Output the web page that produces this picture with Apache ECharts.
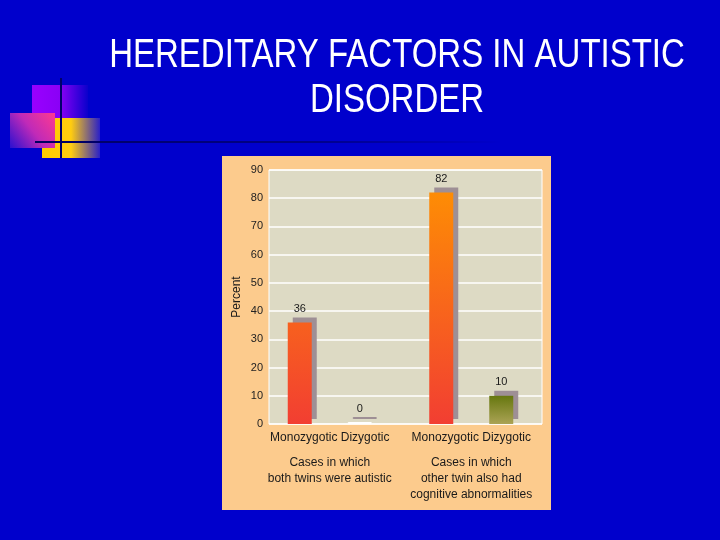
<!DOCTYPE html>
<html><head><meta charset="utf-8">
<script src="https://cdn.jsdelivr.net/npm/echarts@6/dist/echarts.min.js"></script>
<style>html,body{margin:0;padding:0;background:#0000CC}#c{width:720px;height:540px}</style>
</head><body><div id="c"></div>
<script>
const titleLines = ['HEREDITARY FACTORS IN AUTISTIC', 'DISORDER'];
const groups = ['Cases in which\nboth twins were autistic', 'Cases in which\nother twin also had\ncognitive abnormalities'];
const seriesNames = ['Monozygotic', 'Dizygotic'];
const monozygotic = [36, 82];
const dizygotic = [0, 10];
const yMin = 0, yMax = 90, yInterval = 10;
const yName = 'Percent';

const chart = echarts.init(document.getElementById('c'), null, {renderer: 'canvas'});
const LG = echarts.graphic.LinearGradient;
const FONT = '"Liberation Sans", Arial, sans-serif';

const shadow = {shadowColor: '#9E8F95', shadowBlur: 0, shadowOffsetX: 5, shadowOffsetY: -5};
const monoColor = new LG(0, 170, 0, 424, [{offset: 0, color: '#FF9400'}, {offset: 1, color: '#F23E32'}], true);
const dizColor = new LG(0, 0, 0, 1, [{offset: 0, color: '#66770F'}, {offset: 1, color: '#ABA355'}]);

function catLabel(v) {
  const head = '{a|' + seriesNames.join(' ') + '}';
  const body = v.split('\n').map(l => '{b|' + l + '}');
  return [head, '{g| }'].concat(body).join('\n');
}

const option = {
  backgroundColor: '#0000CC',
  animation: false,
  graphic: [
    {type: 'rect', z: -5, shape: {x: 222, y: 156, width: 329, height: 354}, style: {fill: '#FCCB8D'}},
    {type: 'rect', z: 1, shape: {x: 32, y: 85, width: 56, height: 33},
      style: {fill: new LG(0, 0, 1, 0, [{offset: 0, color: '#9900FF'}, {offset: 0.5, color: '#8A00F6'}, {offset: 1, color: '#0A00CC'}])}},
    {type: 'rect', z: 1, shape: {x: 42, y: 118, width: 58, height: 40},
      style: {fill: new LG(0, 0, 1, 0, [{offset: 0, color: '#FFCC00'}, {offset: 0.5, color: '#FFCC10'}, {offset: 1, color: '#2A20C8'}])}},
    {type: 'rect', z: 2, shape: {x: 10, y: 113, width: 45, height: 35},
      style: {fill: new LG(1, 0, 0, 1, [{offset: 0, color: '#FF3A90'}, {offset: 0.5, color: '#C02AB8'}, {offset: 1, color: '#2A10D0'}])}},
    {type: 'line', z: 3, shape: {x1: 61, y1: 78, x2: 61, y2: 158}, style: {stroke: '#00006A', lineWidth: 2}},
    {type: 'line', z: 3, shape: {x1: 35, y1: 142, x2: 500, y2: 142},
      style: {stroke: new LG(0, 0, 1, 0, [{offset: 0, color: '#000060'}, {offset: 0.6, color: '#00008A'}, {offset: 1, color: '#0000CC'}]), lineWidth: 2}},
    {type: 'text', z: 5, x: 397, y: 33, scaleY: 1.25,
      style: {text: titleLines.join('\n'), fill: '#FFFFFF', font: '33px ' + FONT, lineHeight: 36,
        textAlign: 'center', textVerticalAlign: 'top'}}
  ],
  grid: [
    {left: 269, right: 178, top: 170, bottom: 116, show: true, backgroundColor: '#DDDAC4', borderColor: '#FFFFFF', borderWidth: 1, z: 0},
    {left: 259, right: 178, top: 170, bottom: 116, z: 3}
  ],
  xAxis: [
    {type: 'category', gridIndex: 0, data: groups, show: false},
    {type: 'category', gridIndex: 1, data: groups, z: 4,
      axisLine: {show: false}, axisTick: {show: false},
      axisLabel: {margin: 6, interval: 0, formatter: catLabel, color: '#1A1A1A',
        rich: {
          a: {fontSize: 12, lineHeight: 16, fontFamily: FONT, color: '#1A1A1A'},
          g: {fontSize: 6, lineHeight: 9},
          b: {fontSize: 12, lineHeight: 16, fontFamily: FONT, color: '#1A1A1A'}
        }}}
  ],
  yAxis: [
    {type: 'value', gridIndex: 0, min: yMin, max: yMax, interval: yInterval, z: 4,
      name: yName, nameLocation: 'middle', nameRotate: 90, nameGap: 26,
      nameTextStyle: {fontSize: 12, color: '#1A1A1A', fontFamily: FONT},
      axisLine: {show: false}, axisTick: {show: false},
      axisLabel: {fontSize: 11, color: '#222222', margin: 6, fontFamily: FONT},
      splitLine: {lineStyle: {color: '#FFFFFF', width: 1.5}}},
    {type: 'value', gridIndex: 1, min: yMin, max: yMax, interval: yInterval, show: false, splitLine: {show: false}}
  ],
  series: [
    {name: seriesNames[0], type: 'bar', xAxisIndex: 1, yAxisIndex: 1, barWidth: 24, barGap: '150%', z: 6,
      data: monozygotic,
      itemStyle: Object.assign({color: monoColor}, shadow),
      label: {show: true, position: 'top', distance: 8, fontSize: 11, color: '#1A1A1A', fontFamily: FONT}},
    {name: seriesNames[1], type: 'bar', xAxisIndex: 1, yAxisIndex: 1, barWidth: 24, barGap: '150%', barMinHeight: 2, z: 6,
      data: dizygotic.map(v => v === 0 ? {value: v, itemStyle: {color: '#F2F0E4', borderColor: '#FFFFFF', borderWidth: 1}} : v),
      itemStyle: Object.assign({color: dizColor}, shadow),
      label: {show: true, position: 'top', distance: 8, fontSize: 11, color: '#1A1A1A', fontFamily: FONT}}
  ]
};
chart.setOption(option);
</script>
</body></html>
